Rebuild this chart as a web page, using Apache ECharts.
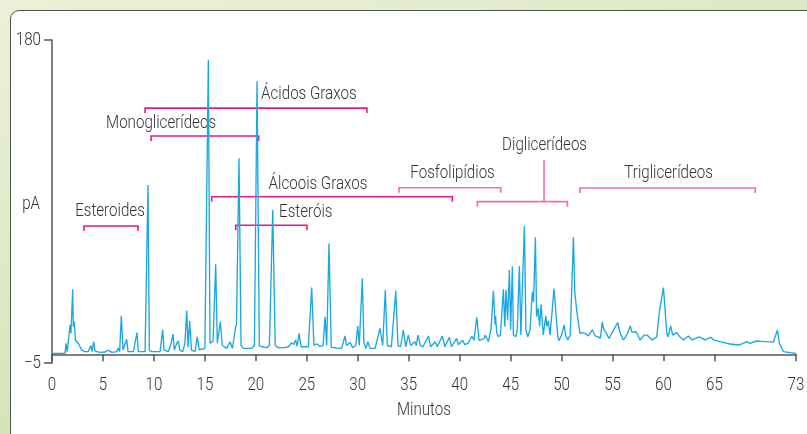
<!DOCTYPE html>
<html><head><meta charset="utf-8">
<script src="https://cdn.jsdelivr.net/npm/echarts@6/dist/echarts.min.js"></script>
<style>
html,body{margin:0;padding:0;width:807px;height:434px;overflow:hidden;}
body{background:linear-gradient(160deg,#eef0d9 0%,#dde7c2 45%,#c3d89d 100%);position:relative;}
#panel{position:absolute;left:10px;top:10px;width:830px;height:460px;background:#fff;border:1.5px solid #46574f;border-radius:9px;box-sizing:border-box;}
#chart{position:absolute;left:0;top:0;width:807px;height:434px;}
</style></head><body><div id="panel"></div><div id="chart"></div>
<script>
// Chromatogram trace: [minutes, pA]
const trace = [
[0,0.5],[1.28,0.5],[1.37,6.3],[1.5,1.5],[1.77,16.8],[1.86,12],[2.03,37.2],[2.09,15.8],[2.19,18.6],[2.29,8.2],[2.42,7.2],[2.58,6.3],[2.75,4.3],[2.91,2.4],[3.24,1.5],[3.56,1.5],[3.8,5],[3.92,1.5],[4.09,7.2],[4.22,1.8],[4.71,1.1],[5.2,1.3],[5.53,2.4],[5.86,1.1],[6.35,1.5],[6.51,3.5],[6.64,1.5],[6.8,22.1],[6.97,2.4],[7.16,1.5],[7.33,8.6],[7.46,1.5],[7.98,1.5],[8.34,12.4],[8.47,1.5],[9.13,1.5],[9.29,2.4],[9.42,96.9],[9.55,2.4],[9.78,1.5],[10.6,1.5],[10.86,14],[10.99,2.4],[11.41,1.5],[11.64,5.3],[11.87,11.6],[12.0,2.4],[12.24,6.3],[12.4,7.6],[12.53,2.4],[12.82,1.5],[13.04,6.3],[13.22,25],[13.35,4],[13.51,19],[13.68,2.4],[14.03,1.5],[14.25,10],[14.45,2.6],
[15.0,3.4],[15.18,4.3],[15.34,168.5],[15.5,6.3],[15.57,7],[15.8,7.5],[16.06,51.5],[16.22,6.3],[16.52,18.6],[16.7,5],[17.14,3.4],[17.47,7.2],[17.7,3.4],[18.03,15.8],[18.1,17],[18.35,112.2],[18.55,5],[18.79,3.4],[19.6,3.4],[19.86,5],[20.12,156.5],[20.34,5],[20.58,4.3],[21.07,3.8],[21.33,5],[21.66,82.6],[21.9,5],[22.2,3.8],[22.87,3.8],[23.2,4.3],[23.52,6.7],[23.7,5.5],[23.91,8.2],[24.05,4.5],[24.24,12],[24.43,4.3],[25.15,4.3],[25.48,38.2],[25.7,5],[25.98,6],[26.3,4.5],[26.6,5],[26.79,21.5],[26.95,5],[27.18,63.5],[27.4,4],[28.1,3.4],[28.43,3.6],[28.75,10.5],
[28.9,5],[29.25,6.7],[29.5,3.8],[29.8,5],[30.0,16.2],[30.15,5],[30.45,43.5],[30.6,6.8],[30.8,3.4],[31.0,7.2],[31.2,3.4],[31.7,3.4],[32.19,14.9],[32.45,5],[32.7,36.6],[32.9,5],[33.3,4.3],[33.73,36.4],[33.95,5],[34.2,4.3],[34.47,13.9],[34.7,4.3],[34.96,11],[35.2,5],[35.6,7.2],[35.75,5],[35.9,11],[36.15,5],[36.4,4.3],[36.93,10.5],[37.15,4.3],[37.6,7.2],[37.8,4.3],[38.3,10.5],[38.55,4.3],[38.99,9.7],[39.2,4.3],[39.7,9.1],[39.85,5.5],[40.3,8],[40.5,5.5],[40.86,6.5],[41.19,10.5],[41.4,8],[41.68,21.2],[41.9,8],[42.4,9],
[42.5,11],[42.82,7.2],[43.08,14.9],[43.31,36.4],[43.47,17.1],[43.52,21.9],[43.64,12],[43.8,10],[44.0,11],[44.29,37.2],[44.43,15.8],[44.55,37],[44.7,19.5],[44.88,48.3],[45.0,14],[45.17,50.2],[45.27,11],[45.5,10],[45.65,14],[45.86,50.5],[46.0,11],[46.12,10],[46.35,73.5],[46.5,14],[46.68,10],[46.9,14],[47.13,35.8],[47.25,30],[47.43,67],[47.55,21.5],[47.69,26.3],[47.85,16],[47.99,28.6],[48.2,11],[48.45,21.9],[48.55,16],[48.7,19],[48.87,11],[49.0,12],[49.26,37.6],[49.43,24.6],[49.63,10],[49.75,7.8],[50.0,11],[50.24,16.8],[50.4,11],[50.6,8.2],[50.85,11],[51.16,67],[51.3,35],[51.37,36],[51.5,24.6],[51.8,12],[52.0,12.4],[52.3,12],[52.63,10.5],[53.02,14],[53.3,10.5],[53.6,10],[53.8,9.1],[54.0,18.6],[54.1,15],[54.26,15.5],[54.66,9.1],[55.1,14],[55.51,18.2],[55.75,12],[56.07,8.2],[56.4,11],[56.75,16.3],[56.9,12.5],[57.31,12.9],[57.7,8.2],[58.1,11],[58.4,11],[58.85,8.2],[59.34,10],[59.6,24.6],[59.99,38.2],[60.1,30],[60.32,12],[60.45,10],[60.7,16.2],[60.9,11],[61.3,12.4],[61.6,10],[61.95,8.2],[62.44,10.5],[62.8,8.2],[63.5,10],[64.1,8.2],[64.64,9.7],[64.9,8.2],[65.56,7.2],[66.5,5.9],[67.35,5.3],[67.7,5.9],[68.17,7.2],[68.5,6.3],[69.15,7.6],[69.6,7.4],[70.13,7.2],[70.79,7],[71.18,13.9],[71.37,6.3],[71.77,1.5],[72.4,0.9],[73,0.5]
];

const xTicks = [0,5,10,15,20,25,30,35,40,45,50,55,60,65,73];
const yTicks = [-5,180];
const xName = 'Minutos';
const yName = 'pA';
const yNameLevel = 85.5;

const groupNames  = ['Esteroides','Monoglicerídeos','Ácidos Graxos','Álcoois Graxos','Esteróis','Fosfolipídios','Diglicerídeos','Triglicerídeos'];
const groupStart  = [3.14, 9.72, 9.13, 15.67, 18.03, 34.05, 41.74, 51.8];
const groupEnd    = [8.44, 20.28, 30.9, 39.28, 25.02, 44.03, 50.57, 69.0];
const groupLevel  = [73.5, 125, 141, 90.2, 73.9, 95.4, 87.4, 95.2];
const labelMinute = [5.69, 10.7, 25.2, 26.1, 24.9, 39.3, 48.33, 60.5];
const labelLevel  = [81.6, 132.3, 148.9, 97.5, 81.3, 103.6, 119.3, 103.6];
const stemMinute  = [null, null, null, null, null, null, 48.28, null];
const stemTop     = [null, null, null, null, null, null, 111.3, null];

const FONT = 'Roboto, "DejaVu Sans Condensed", sans-serif';
const NARROW = 0.84;
const TEXT = '#333333';
const AXIS = '#555555';
const bracketColors = ['#e3198b','#e3198b','#e3198b','#e3198b','#e3198b','#f06db4','#f06db4','#f06db4'];

function fmt(v){ return v < 0 ? '\u2212' + Math.abs(v) : String(v); }

// axis text items (positions come from the axis scales via api.coord)
const axisTexts = [];
xTicks.forEach(v => axisTexts.push({at:[v, yTicks[0]], text:fmt(v), dx:0, dy:22, align:'center'}));
yTicks.forEach(v => axisTexts.push({at:[0, v], text:fmt(v), dx:-11, dy:0, align:'right'}));
axisTexts.push({at:[73/2, yTicks[0]], text:xName, dx:0, dy:47, align:'center'});
axisTexts.push({at:[0, yNameLevel], text:yName, dx:-12, dy:0, align:'right'});

const chart = echarts.init(document.getElementById('chart'), null, {renderer:'canvas'});

function narrowText(x, y, text, align){
  return {type:'text', x:x, y:y, scaleX:NARROW, scaleY:1,
    style:{text:text, x:0, y:0, align:align, verticalAlign:'middle', fill:TEXT, fontSize:18, fontWeight:300, fontFamily:FONT}};
}

function renderBracket(params, api){
  const i = params.dataIndex;
  const a = api.coord([groupStart[i], groupLevel[i]]);
  const b = api.coord([groupEnd[i], groupLevel[i]]);
  const t = api.coord([labelMinute[i], labelLevel[i]]);
  const col = bracketColors[i];
  const children = [
    {type:'polyline', shape:{points:[[a[0],a[1]+5],[a[0],a[1]],[b[0],b[1]],[b[0],b[1]+5]]},
     style:{stroke:col, lineWidth:1.6, fill:null}},
    narrowText(t[0], t[1], groupNames[i], 'center')
  ];
  if (stemMinute[i] !== null) {
    const s0 = api.coord([stemMinute[i], groupLevel[i]]);
    const s1 = api.coord([stemMinute[i], stemTop[i]]);
    children.push({type:'line', shape:{x1:s0[0], y1:s0[1], x2:s1[0], y2:s1[1]}, style:{stroke:col, lineWidth:1.6}});
  }
  return {type:'group', children};
}

function renderAxisText(params, api){
  const it = axisTexts[params.dataIndex];
  const p = api.coord(it.at);
  return narrowText(p[0] + it.dx, p[1] + it.dy, it.text, it.align);
}

chart.setOption({
  animation:false,
  grid:{left:52, right:11, top:40, bottom:71, containLabel:false, outerBoundsMode:'none'},
  xAxis:{
    type:'value', min:0, max:73,
    axisLine:{show:true, lineStyle:{color:AXIS, width:1.5}},
    axisTick:{show:true, length:7, customValues:xTicks, lineStyle:{color:AXIS, width:1.5}},
    axisLabel:{show:false},
    splitLine:{show:false}
  },
  yAxis:{
    type:'value', min:-5, max:180,
    axisLine:{show:true, lineStyle:{color:AXIS, width:1.5}},
    axisTick:{show:true, length:8, customValues:yTicks, lineStyle:{color:AXIS, width:1.5}},
    axisLabel:{show:false},
    splitLine:{show:false}
  },
  series:[
    {type:'custom', renderItem:renderAxisText, clip:false, z:2, silent:true,
     data:axisTexts.map(it => it.at)},
    {type:'custom', renderItem:renderBracket, clip:false, z:2, silent:true,
     data:groupNames.map((n,i)=>[groupStart[i], groupLevel[i]])},
    {type:'line', data:trace, showSymbol:false, symbol:'none', z:3,
     lineStyle:{color:'#1ba8e2', width:1.35}}
  ]
});
</script></body></html>
